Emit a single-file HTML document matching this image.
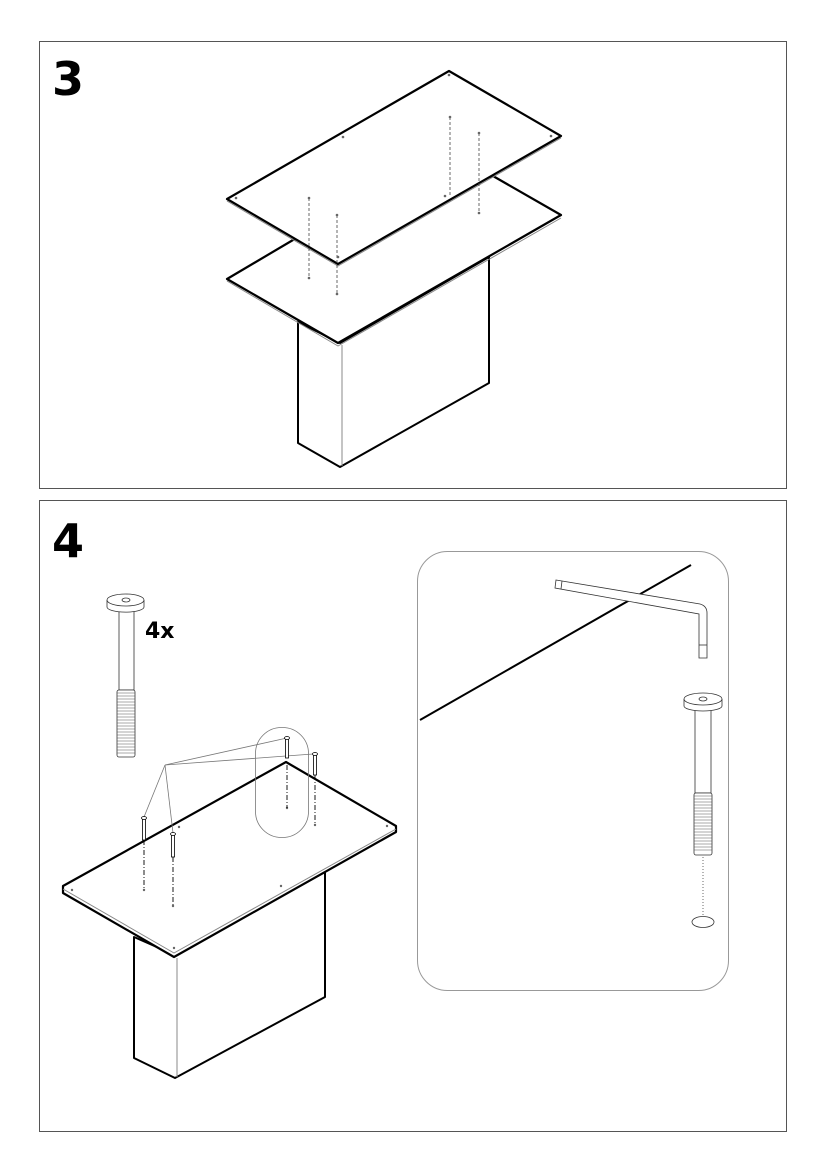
<!DOCTYPE html>
<html><head><meta charset="utf-8"><style>
html,body{margin:0;padding:0;background:#fff}
svg{display:block}
text{font-family:"DejaVu Sans","Liberation Sans",sans-serif;font-weight:bold;fill:#000}
</style></head><body>
<svg width="826" height="1169" viewBox="0 0 826 1169" xmlns="http://www.w3.org/2000/svg">
<rect x="39.5" y="41.5" width="747" height="447" fill="none" stroke="#555" stroke-width="1"/>
<rect x="39.5" y="500.5" width="747" height="631" fill="none" stroke="#555" stroke-width="1"/>
<text x="52" y="95" font-size="46">3</text>
<text x="52" y="557" font-size="46">4</text>

<g fill="#fff" stroke="#000" stroke-linejoin="round">
<!-- panel 3 base -->
<polygon points="298,322 298,443 340,467 489,383 489,257 340,343" stroke-width="2"/>
<line x1="342" y1="345" x2="342" y2="466" stroke="#888" stroke-width="1"/>
<!-- second board -->
<polygon points="227,279 338,343 561,215 493,176 293,240" stroke-width="2.2"/>
<polyline points="227,281 338,346 561,218" fill="none" stroke="#888" stroke-width="1"/>
<!-- top board -->
<polygon points="227,199 449,71 561,136 338,264" stroke-width="2.2"/>
<polyline points="227,201 338,266 561,138" fill="none" stroke="#888" stroke-width="1"/>
</g>
<g stroke="#444" stroke-width="0.8" stroke-dasharray="3,2">
<line x1="309" y1="198" x2="309" y2="278"/>
<line x1="337" y1="215" x2="337" y2="294"/>
<line x1="450" y1="117" x2="450" y2="195"/>
<line x1="479" y1="133" x2="479" y2="213"/>
</g>
<g fill="#666">
<circle cx="309" cy="198" r="1.3"/><circle cx="337" cy="215" r="1.3"/><circle cx="450" cy="117" r="1.3"/><circle cx="479" cy="133" r="1.3"/>
<circle cx="309" cy="278" r="1.3"/><circle cx="337" cy="294" r="1.3"/><circle cx="479" cy="213" r="1.3"/>
<circle cx="236" cy="198" r="1.3"/><circle cx="343" cy="137" r="1.3"/><circle cx="449" cy="75" r="1.3"/><circle cx="551" cy="136" r="1.3"/><circle cx="338" cy="257" r="1.3"/><circle cx="445" cy="196" r="1.3"/>
</g>

<!-- panel 4 table -->
<g fill="#fff" stroke="#000" stroke-linejoin="round">
<polygon points="134,937 134,1058 175,1078 325,997 325,872 175,955" stroke-width="2"/>
<line x1="177" y1="958" x2="177" y2="1077" stroke="#888" stroke-width="1"/>
<polygon points="63,886 286,762 396,826 396,832 174,957 63,893" stroke-width="2.2"/>
<polyline points="63,889 174,953 396,829" fill="none" stroke="#888" stroke-width="1"/>
</g>
<g fill="#666">
<circle cx="72" cy="890" r="1.2"/><circle cx="179" cy="827" r="1.2"/><circle cx="387" cy="826" r="1.2"/><circle cx="174" cy="948" r="1.2"/><circle cx="281" cy="886" r="1.2"/>
<circle cx="144" cy="890" r="1.2"/><circle cx="173" cy="906" r="1.2"/><circle cx="287" cy="808" r="1.2"/><circle cx="315" cy="825" r="1.2"/>
</g>
<rect x="255.5" y="727.5" width="53" height="110" rx="26" fill="none" stroke="#777" stroke-width="0.8"/>
<g stroke="#000" stroke-width="0.9" stroke-dasharray="5,2,1,2">
<line x1="144" y1="840" x2="144" y2="890"/>
<line x1="173" y1="857" x2="173" y2="906"/>
<line x1="287" y1="765" x2="287" y2="808"/>
<line x1="315" y1="775" x2="315" y2="825"/>
</g>
<g stroke="#777" stroke-width="0.8" fill="none">
<line x1="165" y1="765" x2="144" y2="817"/>
<line x1="165" y1="765" x2="173" y2="833"/>
<line x1="165" y1="765" x2="287" y2="738"/>
<line x1="165" y1="765" x2="313" y2="754"/>
</g>
<g fill="#fff" stroke="#000" stroke-width="0.8">
<rect x="142.5" y="818" width="3" height="22"/><ellipse cx="144" cy="818" rx="2.5" ry="1.5"/>
<rect x="171.5" y="834" width="3" height="23"/><ellipse cx="173" cy="834" rx="2.5" ry="1.5"/>
<rect x="285.5" y="738" width="3" height="20"/><ellipse cx="287" cy="738" rx="2.5" ry="1.5"/>
<rect x="313.5" y="754" width="3" height="21"/><ellipse cx="315" cy="754" rx="2.5" ry="1.5"/>
</g>

<!-- small bolt -->
<g fill="#fff" stroke="#333" stroke-width="0.8">
<rect x="119" y="608" width="15" height="82"/>
<rect x="117" y="690" width="18" height="67" rx="2"/>
<path d="M107,600 v7 a18,5 0 0 0 37,0 v-7" />
<ellipse cx="125.5" cy="600" rx="18.5" ry="6"/>
<ellipse cx="126" cy="600" rx="4" ry="2"/>
</g>
<g stroke="#555" stroke-width="0.6">
<path d="M117,693h18M117,696h18M117,699h18M117,702h18M117,705h18M117,708h18M117,711h18M117,714h18M117,717h18M117,720h18M117,723h18M117,726h18M117,729h18M117,732h18M117,735h18M117,738h18M117,741h18M117,744h18M117,747h18M117,750h18M117,753h18"/>
</g>
<text x="145" y="638" font-size="22">4x</text>

<!-- callout -->
<rect x="417.5" y="551.5" width="311" height="439" rx="30" fill="none" stroke="#999" stroke-width="1"/>
<line x1="420" y1="720" x2="691" y2="565" stroke="#000" stroke-width="2"/>
<g fill="none" stroke="#333" stroke-width="0.8">
<path d="M556,580 L700,604 Q707,606 707,613 L707,658 L699,658 L699,614 L555,588 Z" fill="#fff"/>
<line x1="699" y1="645" x2="707" y2="645"/>
<line x1="562" y1="581" x2="561" y2="589"/>
</g>
<g fill="#fff" stroke="#333" stroke-width="0.8">
<rect x="695" y="710" width="16" height="83"/>
<rect x="694" y="793" width="18" height="62" rx="2"/>
<path d="M684,699 v7 a19,5 0 0 0 38,0 v-7"/>
<ellipse cx="703" cy="699" rx="19" ry="6"/>
<ellipse cx="703" cy="699" rx="4" ry="2"/>
</g>
<g stroke="#555" stroke-width="0.6">
<path d="M694,796h18M694,799h18M694,802h18M694,805h18M694,808h18M694,811h18M694,814h18M694,817h18M694,820h18M694,823h18M694,826h18M694,829h18M694,832h18M694,835h18M694,838h18M694,841h18M694,844h18M694,847h18M694,850h18"/>
</g>
<line x1="703" y1="857" x2="703" y2="916" stroke="#444" stroke-width="0.8" stroke-dasharray="1,2"/>
<ellipse cx="703" cy="922" rx="11" ry="5.5" fill="#fff" stroke="#333" stroke-width="0.8"/>
</svg>
</body></html>
